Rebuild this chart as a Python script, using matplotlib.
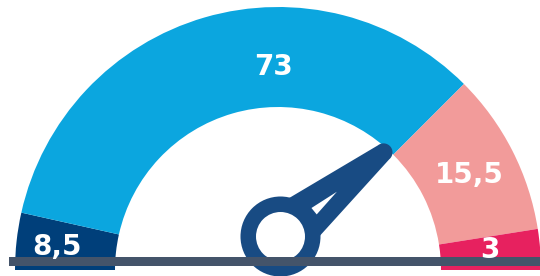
import numpy as np
import matplotlib
matplotlib.use("Agg")
import matplotlib.pyplot as plt
from matplotlib.patches import Wedge, Circle, Polygon, Rectangle

# ---- data ----
band_labels = ["8,5", "73", "15,5", "3"]
band_edges = [0, 7, 75, 95, 100]          # gauge scale positions of the band limits
band_colors = ["#003f7a", "#0ba6df", "#f29b9a", "#e7215f"]
needle_value = 78.2
scale_max = 100

# ---- layout (pixel-like data coordinates) ----
W, H = 540, 276
fig = plt.figure(figsize=(W / 100, H / 100), dpi=100)
ax = fig.add_axes([0, 0, 1, 1])
ax.set_xlim(0, W)
ax.set_ylim(0, H)
ax.axis("off")

cx, cy = 278, 6
R_out, R_in = 263, 163

def ang(v):
    return 180 - 180 * v / scale_max

for i, col in enumerate(band_colors):
    a1 = ang(band_edges[i + 1])
    a2 = ang(band_edges[i])
    ax.add_patch(Wedge((cx, cy), R_out, a1, a2, width=R_out - R_in,
                       facecolor=col, edgecolor="none", zorder=1))

# labels
label_pos = [(57, 21), (273, 201), (469.5, 93), (490, 18)]
for txt, (x, y) in zip(band_labels, label_pos):
    ax.text(x, y, txt, ha="center", va="baseline", color="white",
            fontsize=20, fontweight="bold", family="DejaVu Sans", zorder=6)

# needle
navy = "#184b83"
hx, hy = 280.5, 39.5
a = np.radians(ang(needle_value))
u = np.array([np.cos(a), np.sin(a)])
n = np.array([np.sin(a), -np.cos(a)])
hub = np.array([hx, hy])

def P(s, p):
    return hub + s * u + p * n

L, w_tip, w_base = 133, 9, 29
pts = [P(0, -w_base)]
for phi in np.linspace(-90, 90, 25):
    r = np.radians(phi)
    pts.append(P(L + w_tip * np.cos(r), w_tip * np.sin(r)))
pts.append(P(0, w_base))
ax.add_patch(Polygon(pts, closed=True, facecolor=navy, edgecolor="none", zorder=3))
ax.add_patch(Polygon([P(42, -2.5), P(72, 1), P(42, 5.8)], closed=True,
                     facecolor="white", edgecolor="none", zorder=3.5))

ax.add_patch(Circle((hx, hy), 40, facecolor=navy, edgecolor="none", zorder=4))
ax.add_patch(Circle((hx, hy), 24.5, facecolor="white", edgecolor="none", zorder=4.5))

# baseline
ax.add_patch(Rectangle((9, 10), W - 9, 9, facecolor="#44546a", edgecolor="none", zorder=5))

fig.savefig("out.png", dpi=100)
